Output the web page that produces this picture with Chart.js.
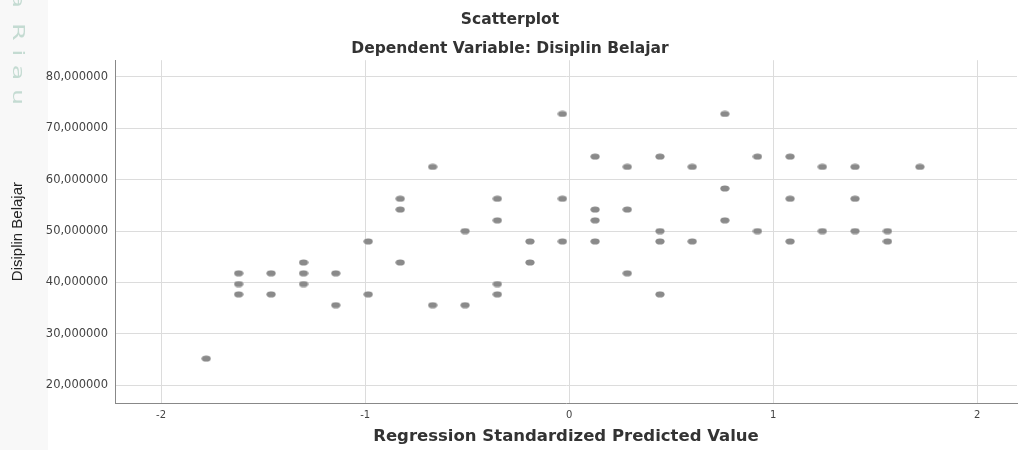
<!DOCTYPE html>
<html>
<head>
<meta charset="utf-8">
<script src="https://cdn.jsdelivr.net/npm/chart.js@4.4.1/dist/chart.umd.min.js"></script>
<style>
  html, body { margin: 0; padding: 0; background: #fff; }
  #wrap { width: 1022px; height: 450px; position: relative; }
</style>
</head>
<body>
<div id="wrap"><canvas id="scatter"></canvas></div>
<script>
// values
const predictedValue = [
  -1.779,
  -1.620, -1.620, -1.620,
  -1.461, -1.461,
  -1.302, -1.302, -1.302,
  -1.144, -1.144,
  -0.985, -0.985,
  -0.828, -0.828, -0.828,
  -0.669, -0.669,
  -0.510, -0.510,
  -0.352, -0.352, -0.352, -0.352,
  -0.192, -0.192,
  -0.033, -0.033, -0.033,
  0.127, 0.127, 0.127, 0.127,
  0.285, 0.285, 0.285,
  0.445, 0.445, 0.445, 0.445,
  0.603, 0.603,
  0.763, 0.763, 0.763,
  0.923, 0.923,
  1.083, 1.083, 1.083,
  1.241, 1.241,
  1.401, 1.401, 1.401,
  1.560, 1.560,
  1.719
];
const disiplinBelajar = [
  25.2,
  41.8, 39.7, 37.7,
  41.8, 37.7,
  43.9, 41.8, 39.7,
  41.8, 35.6,
  48.0, 37.7,
  56.3, 54.2, 43.9,
  62.5, 35.6,
  50.0, 35.6,
  56.3, 52.1, 39.7, 37.7,
  48.0, 43.9,
  72.8, 56.3, 48.0,
  64.5, 54.2, 52.1, 48.0,
  62.5, 54.2, 41.8,
  64.5, 50.0, 48.0, 37.7,
  62.5, 48.0,
  72.8, 58.3, 52.1,
  64.5, 50.0,
  64.5, 56.3, 48.0,
  62.5, 50.0,
  62.5, 56.3, 50.0,
  50.0, 48.0,
  62.5
];
const xTicks = [-2, -1, 0, 1, 2];
const yTicks = [20, 30, 40, 50, 60, 70, 80];

const wideFont = '"DejaVu Sans", "Liberation Sans", Arial';

// little grey ellipse used as the marker
function makeDot() {
  const c = document.createElement('canvas');
  c.width = 10; c.height = 7;
  const g = c.getContext('2d');
  g.fillStyle = '#8a8a8a';
  g.beginPath();
  g.ellipse(5, 3.5, 4.6, 3.1, 0, 0, Math.PI * 2);
  g.fill();
  return c;
}

const points = predictedValue.map((x, i) => ({ x: x, y: disiplinBelajar[i] }));

// faint "Riau" text at the left edge
const watermark = {
  id: 'watermark',
  beforeDraw(chart) {
    const ctx = chart.ctx;
    ctx.save();
    ctx.fillStyle = '#f8f8f8';
    ctx.fillRect(0, 0, 48, chart.height);
    ctx.fillStyle = '#c4dbd2';
    ctx.font = '15px "DejaVu Sans"';
    ctx.letterSpacing = '5px';
    ctx.translate(17, 23);
    ctx.rotate(Math.PI / 2);
    ctx.scale(1.7, 1);
    ctx.textBaseline = 'middle';
    ctx.fillText('Riau', 0, 0);
    ctx.fillText('a', -18, 0);
    ctx.restore();
  }
};

new Chart(document.getElementById('scatter'), {
  type: 'scatter',
  data: {
    datasets: [{
      label: 'Disiplin Belajar',
      data: points,
      pointStyle: makeDot(),
      pointRadius: 4,
      pointHoverRadius: 4
    }]
  },
  plugins: [watermark],
  options: {
    responsive: true,
    maintainAspectRatio: false,
    animation: false,
    layout: { padding: { top: 0, right: 2, bottom: 0, left: 0 } },
    plugins: {
      legend: { display: false },
      tooltip: { enabled: false },
      title: {
        display: true,
        text: 'Scatterplot',
        color: '#333',
        font: { family: wideFont, size: 15.5, weight: 'bold' },
        padding: { top: 11, bottom: 10 }
      },
      subtitle: {
        display: true,
        text: 'Dependent Variable: Disiplin Belajar',
        color: '#333',
        font: { family: wideFont, size: 15.5, weight: 'bold' },
        padding: { top: 0, bottom: 2 }
      }
    },
    scales: {
      x: {
        type: 'linear',
        min: -2.226,
        max: 2.195,
        afterBuildTicks: s => { s.ticks = xTicks.map(v => ({ value: v })); },
        afterFit: s => { s.height = 47; },
        border: { color: '#888', width: 1 },
        grid: { color: '#dcdcdc', drawTicks: false },
        ticks: {
          color: '#444',
          padding: 6,
          font: { family: wideFont, size: 10 }
        },
        title: {
          display: true,
          text: 'Regression Standardized Predicted Value',
          color: '#333',
          font: { family: wideFont, size: 16.5, weight: 'bold' },
          padding: { top: 0, bottom: 3 }
        }
      },
      y: {
        min: 16.56,
        max: 83.25,
        afterBuildTicks: s => { s.ticks = yTicks.map(v => ({ value: v })); },
        afterFit: s => { s.width = 115; },
        border: { color: '#888', width: 1 },
        grid: { color: '#dcdcdc', drawTicks: false },
        ticks: {
          color: '#444',
          padding: 7,
          font: { family: wideFont, size: 11.5 },
          callback: v => v.toFixed(6).replace('.', ',')
        },
        title: {
          display: true,
          text: 'Disiplin Belajar',
          color: '#222',
          font: { family: '"Liberation Sans Narrow", "Liberation Sans", Arial', size: 15 },
          padding: { top: 9, bottom: 0 }
        }
      }
    }
  }
});
</script>
</body>
</html>
